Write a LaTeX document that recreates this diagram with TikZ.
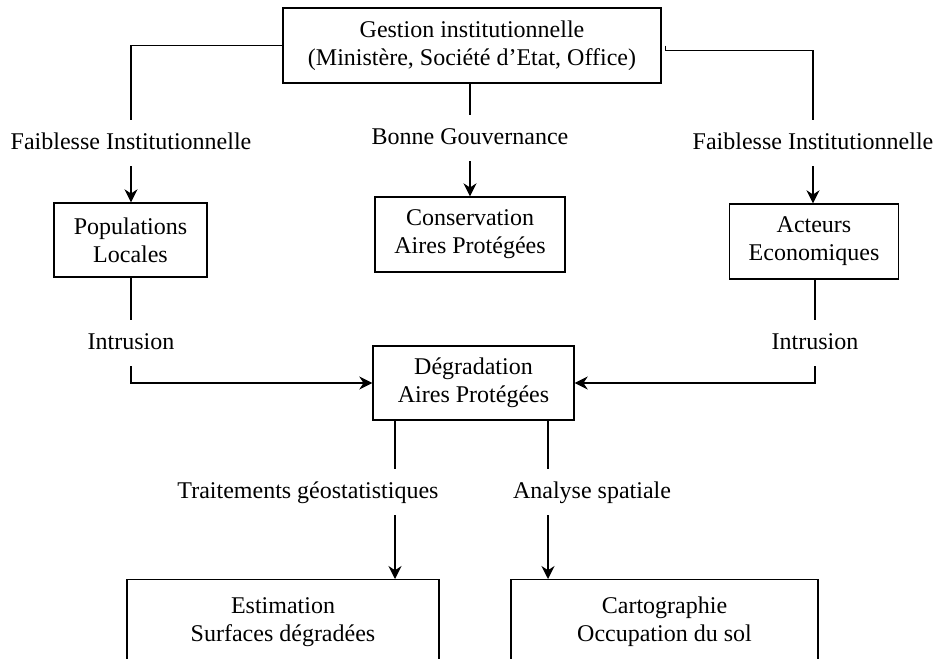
\documentclass[tikz,border=0pt]{standalone}
\usepackage{fontspec}
\setmainfont{Liberation Serif}
\usetikzlibrary{arrows.meta}
\tikzset{boite/.style={draw, line width=0.7pt, align=center, inner sep=2pt, %
    font=\fontsize{12}{14}\selectfont}}
\tikzset{etiq/.style={align=center, inner xsep=2pt, inner ysep=6pt, %
    text height=8.5pt, text depth=2.5pt, font=\fontsize{12}{14}\selectfont}}
\tikzset{lien/.style={line width=0.7pt}}
\tikzset{fleche/.style={line width=0.7pt, -{Stealth[length=6.5pt,width=6.5pt]}}}

\begin{document}
\begin{tikzpicture}[x=0.5pt,y=-0.5pt]

	  \useasboundingbox (0,0) rectangle (933,659);

	  % boites
	  \node [boite, minimum width=189pt, minimum height=37.5pt] (gest) at (472,45.5)
	       {Gestion institutionnelle\\(Ministère, Société d’Etat, Office)};
	  \node [boite, minimum width=76.5pt, minimum height=37pt] (popu) at (130.5,240)
	       {Populations\\Locales};
	  \node [boite, minimum width=95pt, minimum height=37.5pt] (cons) at (470,234.5)
	       {Conservation\\Aires Protégées};
	  \node [boite, minimum width=84.5pt, minimum height=37.5pt] (acte) at (814,241.5)
	       {Acteurs\\Economiques};
	  \node [boite, minimum width=100.5pt, minimum height=37pt] (degr) at (473.5,383)
	       {Dégradation\\Aires Protégées};
	  \node [boite, anchor=north, minimum width=156pt, minimum height=42pt] (estim) at (283,579)
	       {Estimation\\Surfaces dégradées};
	  \node [boite, anchor=north, minimum width=153.5pt, minimum height=42pt] (carto) at (664.5,579)
	       {Cartographie\\Occupation du sol};

	  % etiquettes
	  \node [etiq] (faib1) at (131,143) {Faiblesse Institutionnelle};
	  \node [etiq] (bonne) at (470,138) {Bonne Gouvernance};
	  \node [etiq] (faib2) at (813,143) {Faiblesse Institutionnelle};
	  \node [etiq] (intr1) at (131,343) {Intrusion};
	  \node [etiq] (intr2) at (815,343) {Intrusion};
	  \node [etiq] (geost) at (308,492) {Traitements géostatistiques};
	  \node [etiq] (spat) at (592,492) {Analyse spatiale};

	  \coordinate (colg) at (395,0);
	  \coordinate (cold) at (548,0);

	  % liens
	  \draw [lien] (gest.west) -| (faib1.north);
	  \draw [fleche] (faib1.south) -- (popu.north -| faib1.south);

	  \draw [lien] (gest.south -| bonne.north) -- (bonne.north);
	  \draw [fleche] (bonne.south) -- (cons.north -| bonne.south);

	  \draw [lien] ([xshift=2pt]gest.east) -- ++(0,5) -| (faib2.north);
	  \draw [fleche] (faib2.south) -- (acte.north -| faib2.south);

	  \draw [lien] (popu.south -| intr1.north) -- (intr1.north);
	  \draw [fleche] (intr1.south) |- (degr.west);

	  \draw [lien] (acte.south -| intr2.north) -- (intr2.north);
	  \draw [fleche] (intr2.south) |- (degr.east);

	  \draw [lien] (degr.south -| colg) -- (geost.north -| colg);
	  \draw [fleche] (geost.south -| colg) -- (estim.north -| colg);

	  \draw [lien] (degr.south -| cold) -- (spat.north -| cold);
	  \draw [fleche] (spat.south -| cold) -- (carto.north -| cold);

\end{tikzpicture}
\end{document}
